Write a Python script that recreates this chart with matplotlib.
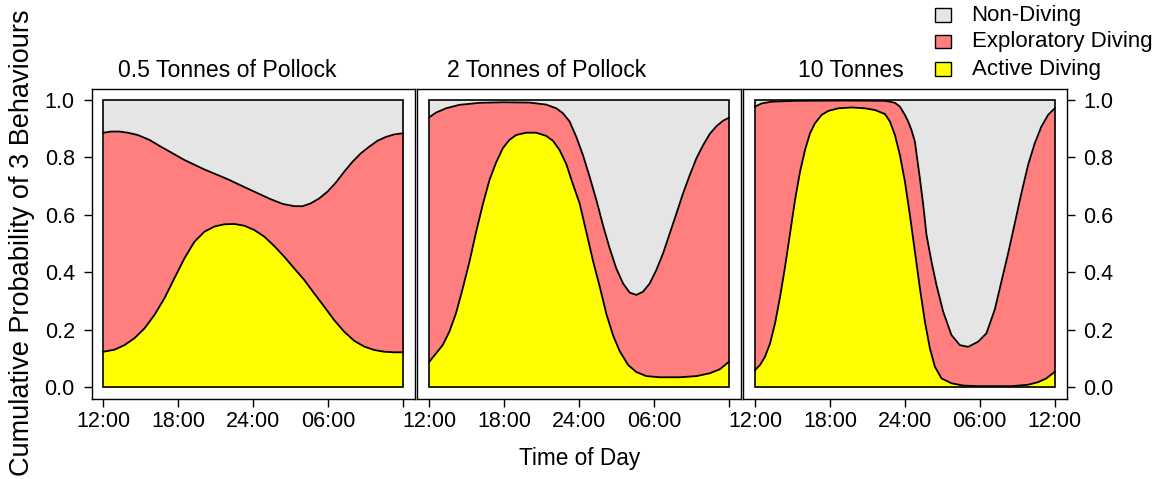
import matplotlib
matplotlib.use("Agg")
import matplotlib.pyplot as plt
from matplotlib.patches import Rectangle

plt.rcParams['font.family'] = ['Liberation Sans', 'DejaVu Sans']

# colours for the three stacked behaviours
col_non = "#E5E5E5"
col_expl = "#FF7F7F"
col_act = "#FFFF00"

titles = ["0.5 Tonnes of Pollock", "2 Tonnes of Pollock", "10 Tonnes"]
legend_labels = ["Non-Diving", "Exploratory Diving", "Active Diving"]
tick_hours = [0, 6, 12, 18, 24]
tick_labels = ["12:00", "18:00", "24:00", "06:00", "12:00"]
prob_ticks = [0.0, 0.2, 0.4, 0.6, 0.8, 1.0]

# hours since noon; top = P(active) + P(exploratory), act = P(active)
top_h1 = [0, 0.61, 1.28, 1.95, 2.75, 3.68, 4.61, 5.55, 6.48, 8.08, 9.95, 11.81, 13.41, 14.35, 15.28,
          15.95, 16.61, 17.28, 17.95, 18.61, 19.28, 19.95, 20.61, 21.28, 21.95, 22.61, 23.28, 24]
top_p1 = [0.886, 0.890, 0.890, 0.886, 0.878, 0.861, 0.837, 0.814, 0.791, 0.758, 0.724, 0.686, 0.654, 0.638, 0.630,
          0.630, 0.640, 0.657, 0.681, 0.712, 0.750, 0.785, 0.814, 0.837, 0.858, 0.871, 0.880, 0.884]
act_h1 = [0, 0.88, 1.68, 2.48, 3.28, 4.08, 4.88, 5.68, 6.48, 7.28, 8.08, 8.88, 9.68, 10.48, 11.28, 12.08,
          12.88, 13.68, 14.48, 15.28, 16.08, 16.88, 17.68, 18.48, 19.28, 20.08, 20.88, 21.68, 22.48, 23.28, 24]
act_p1 = [0.123, 0.130, 0.146, 0.170, 0.204, 0.251, 0.309, 0.379, 0.448, 0.506, 0.541, 0.559, 0.567, 0.568, 0.562, 0.547,
          0.524, 0.491, 0.454, 0.413, 0.373, 0.326, 0.280, 0.233, 0.193, 0.161, 0.141, 0.129, 0.123, 0.121, 0.121]

top_h2 = [0, 0.54, 1.34, 2.41, 4.01, 5.89, 8.03, 9.36, 10.17, 10.70, 11.24, 11.77, 12.31, 12.84, 13.38, 13.91, 14.45,
          14.98, 15.52, 16.05, 16.59, 17.12, 17.66, 18.19, 18.73, 19.26, 19.80, 20.33, 20.87, 21.40, 21.94, 22.47,
          23.01, 23.54, 24]
top_p2 = [0.940, 0.956, 0.971, 0.983, 0.990, 0.992, 0.991, 0.984, 0.971, 0.954, 0.925, 0.872, 0.808, 0.733, 0.652, 0.564, 0.483,
          0.413, 0.361, 0.329, 0.321, 0.332, 0.361, 0.408, 0.466, 0.535, 0.605, 0.675, 0.739, 0.797, 0.843, 0.882,
          0.909, 0.928, 0.938]
act_h2 = [0, 0.54, 1.07, 1.61, 2.14, 2.68, 3.21, 3.75, 4.28, 4.82, 5.35, 5.89, 6.42, 6.96, 7.76, 8.56, 9.36, 9.90,
          10.43, 10.97, 11.50, 12.04, 12.58, 13.11, 13.65, 14.18, 14.72, 15.25, 15.92, 16.59, 17.39, 18.46, 20.07,
          21.40, 22.47, 23.28, 24]
act_p2 = [0.088, 0.117, 0.146, 0.193, 0.257, 0.344, 0.435, 0.540, 0.635, 0.721, 0.782, 0.832, 0.861, 0.878, 0.886, 0.886, 0.875, 0.858,
          0.826, 0.777, 0.707, 0.640, 0.540, 0.440, 0.350, 0.255, 0.180, 0.125, 0.077, 0.052, 0.038, 0.034, 0.034,
          0.038, 0.048, 0.062, 0.088]

top_h3 = [0, 0.53, 1.33, 3.2, 7.2, 10.4, 10.8, 11.2, 11.6, 12.0, 12.27, 12.53, 12.8, 13.2, 13.47, 13.73, 14.13, 14.53,
          15.07, 15.73, 16.4, 17.07, 17.87, 18.53, 19.2, 19.73, 20.27, 20.8, 21.33, 21.87, 22.4, 22.93, 23.47, 24]
top_p3 = [0.977, 0.988, 0.994, 0.997, 0.998, 0.997, 0.994, 0.990, 0.977, 0.948, 0.924, 0.895, 0.855, 0.727, 0.634, 0.530, 0.437, 0.355,
          0.262, 0.181, 0.146, 0.140, 0.158, 0.187, 0.270, 0.367, 0.466, 0.570, 0.675, 0.774, 0.849, 0.907, 0.948, 0.971]
act_h3 = [0, 0.4, 0.8, 1.2, 1.6, 2.0, 2.4, 2.8, 3.2, 3.6, 4.0, 4.4, 4.8, 5.33, 5.87, 6.67, 7.73, 8.8, 9.6, 10.4, 10.8,
          11.2, 11.6, 12.0, 12.4, 12.8, 13.2, 13.6, 14.0, 14.4, 14.93, 15.73, 16.67, 17.87, 20.53, 21.87, 22.67, 23.33, 24]
act_p3 = [0.059, 0.077, 0.106, 0.152, 0.222, 0.314, 0.419, 0.535, 0.652, 0.750, 0.826, 0.884, 0.919, 0.948, 0.962, 0.971, 0.974, 0.971, 0.965, 0.951, 0.925,
          0.878, 0.808, 0.716, 0.599, 0.472, 0.344, 0.228, 0.135, 0.071, 0.030, 0.013, 0.005, 0.003, 0.003, 0.008, 0.017, 0.030, 0.053]

panels = [(top_h1, top_p1, act_h1, act_p1),
          (top_h2, top_p2, act_h2, act_p2),
          (top_h3, top_p3, act_h3, act_p3)]

W, H = 1161, 479
fig = plt.figure(figsize=(W / 100, H / 100), dpi=100)

FS = 15.5
box_w, box_h = 323.6, 310
box_top = 88.5
lefts = [91.5, 417.3, 743.1]
title_x = [118, 447, 798]

for i, (th, tp, ah, ap) in enumerate(panels):
    ax = fig.add_axes([lefts[i] / W, 1 - (box_top + box_h) / H, box_w / W, box_h / H])
    # grey background, then exploratory under the top curve, active at the bottom
    ax.fill_between([0, 24], 0, 1, color=col_non, lw=0)
    ax.fill_between(th, 0, tp, color=col_expl, lw=0)
    ax.fill_between(ah, 0, ap, color=col_act, lw=0)
    ax.plot(th, tp, color="black", lw=1.3, solid_joinstyle="round")
    ax.plot(ah, ap, color="black", lw=1.3, solid_joinstyle="round")
    ax.add_patch(Rectangle((0, 0), 24, 1, fill=False, ec="black", lw=1.2))

    ax.set_xlim(-0.96, 24.96)
    ax.set_ylim(-0.04, 1.04)
    for s in ax.spines.values():
        s.set_linewidth(1.0)

    labs = list(tick_labels)
    if i < 2:
        labs[-1] = ""  # next panel's first label sits there
    ax.set_xticks(tick_hours)
    ax.set_xticklabels(labs)
    ax.tick_params(axis="x", direction="out", length=6, width=1.0, pad=3, labelsize=FS)

    if i == 1:
        ax.set_yticks([])
    else:
        if i == 2:
            ax.yaxis.tick_right()
        ax.set_yticks(prob_ticks)
        ax.set_yticklabels([f"{v:.1f}" for v in prob_ticks])
        ax.tick_params(axis="y", direction="out", length=6, width=1.0, pad=6, labelsize=FS)

    fig.text(title_x[i] / W, 1 - 77 / H, titles[i], fontsize=16.6, ha="left", va="baseline")

fig.text(580 / W, 1 - 465 / H, "Time of Day", fontsize=16.3, ha="center", va="baseline")
fig.text(22 / W, 1 - 243 / H, "Cumulative Probability of 3 Behaviours", fontsize=19.5,
         rotation=90, ha="center", va="center")

# legend in the top right corner
leg_cols = [col_non, col_expl, col_act]
row_y = [15, 41.7, 69]
for lab, c, y in zip(legend_labels, leg_cols, row_y):
    fig.add_artist(Rectangle((935 / W, 1 - (y + 6.7) / H), 16 / W, 13.4 / H,
                             transform=fig.transFigure, fc=c, ec="black", lw=1.0))
    fig.text(971.5 / W, 1 - y / H, lab, fontsize=16, ha="left", va="center")

fig.savefig("out.png", dpi=100)
